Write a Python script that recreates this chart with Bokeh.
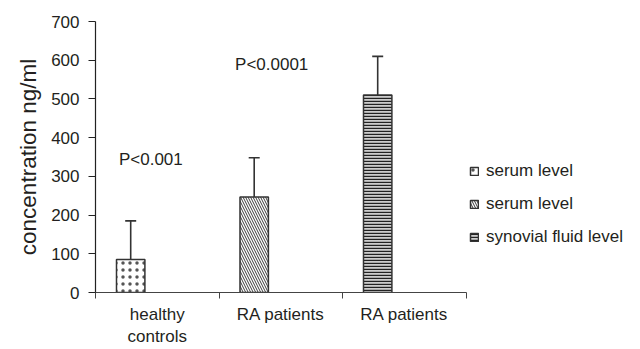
from bokeh.plotting import figure
from bokeh.models import (Range1d, FixedTicker, Legend, LegendItem, Whisker,
                          TeeHead, ColumnDataSource)
from bokeh.core.properties import value
from bokeh.embed import file_html
from bokeh.resources import INLINE

# ---- data ----
categories = ["healthy\ncontrols", "RA patients", "RA patients"]
means = [85, 247, 510]
sd = [100, 101, 100]
legend_labels = ["serum level", "serum level", "synovial fluid level"]
hatches = ["dot", "left_diagonal_line", "horizontal_line"]
p_texts = ["P<0.001", "P<0.0001"]
y_ticks = [0, 100, 200, 300, 400, 500, 600, 700]

FONT = "Liberation Sans"
INK = "#231f20"

W, H = 640, 349
LEFT, RIGHT, TOP, BOTTOM = 95, 5, 21, 54
CAT_PX = 123.5                      # pixel width of one category slot
frame_w = W - LEFT - RIGHT
n = len(categories)
x_end = frame_w / CAT_PX            # frame extends past the axis for the legend

p = figure(width=W, height=H, x_range=Range1d(0, x_end),
           y_range=Range1d(0, 700), output_backend="svg", toolbar_location=None,
           min_border_left=LEFT, min_border_right=RIGHT, min_border_top=TOP,
           min_border_bottom=BOTTOM)
p.outline_line_color = None
p.xgrid.visible = False
p.ygrid.visible = False
p.background_fill_color = "white"

centers = [i + 0.5 for i in range(n)]
bar_x = [c - 0.215 for c in centers]
bar_w = 0.23

styles = [
    dict(fill_color="white", hatch_scale=7, hatch_weight=0.5, hatch_color="#555555"),
    dict(fill_color="white", hatch_scale=5, hatch_weight=0.9, hatch_color="#222222"),
    dict(fill_color="#cccccc", hatch_scale=3, hatch_weight=1.4, hatch_color="#222222"),
]

items = []
for i in range(n):
    src = ColumnDataSource(dict(x=[bar_x[i]], top=[means[i]],
                                upper=[means[i] + sd[i]]))
    r = p.vbar(x="x", top="top", bottom=0, width=bar_w, source=src,
               line_color="#333333", line_width=1.5,
               hatch_pattern=hatches[i], **styles[i])
    w = Whisker(base="x", upper="upper", lower="top", source=src,
                dimension="height", line_color="#333333", line_width=1.6,
                upper_head=TeeHead(size=11, line_color="#333333", line_width=1.6),
                lower_head=None)
    p.add_layout(w)
    items.append(LegendItem(label=legend_labels[i], renderers=[r]))

# p-values
p.text(x=[0.19, 1.13], y=[344, 589], text=p_texts,
       text_font=value(FONT), text_font_size="17px", text_color=INK,
       text_baseline="middle", text_align="left")

# axes
xa = p.xaxis[0]
xa.bounds = (0, n)
xa.ticker = FixedTicker(ticks=centers, minor_ticks=list(range(n + 1)))
xa.major_label_overrides = {c: lab for c, lab in zip(centers, categories)}
xa.major_tick_out = 0
xa.major_tick_in = 0
xa.minor_tick_out = 6
xa.minor_tick_in = 0
xa.minor_tick_line_color = "#444444"
xa.axis_line_color = "#444444"
xa.axis_line_width = 1.2
xa.major_label_text_font = FONT
xa.major_label_text_font_size = "17px"
xa.major_label_text_color = INK
xa.major_label_text_line_height = 1.2
xa.major_label_standoff = 6

ya = p.yaxis[0]
ya.ticker = FixedTicker(ticks=y_ticks)
ya.major_tick_out = 7
ya.major_tick_in = 0
ya.minor_tick_out = 0
ya.minor_tick_in = 0
ya.axis_line_color = "#222222"
ya.axis_line_width = 1.2
ya.major_tick_line_color = "#222222"
ya.major_label_text_font = FONT
ya.major_label_text_font_size = "17px"
ya.major_label_text_color = INK
ya.major_label_standoff = 9
ya.axis_label = "concentration ng/ml"
ya.axis_label_text_font = FONT
ya.axis_label_text_font_size = "22.5px"
ya.axis_label_text_font_style = "normal"
ya.axis_label_text_color = INK
ya.axis_label_standoff = 7

legend = Legend(items=items, location=(374, 45), orientation="vertical",
                glyph_width=10, glyph_height=10, label_standoff=7,
                spacing=13, padding=0, margin=0,
                border_line_color=None, background_fill_alpha=0,
                label_text_font=FONT, label_text_font_size="17px",
                label_text_color=INK)
p.add_layout(legend)

open("out.html", "w").write(file_html(p, INLINE))
